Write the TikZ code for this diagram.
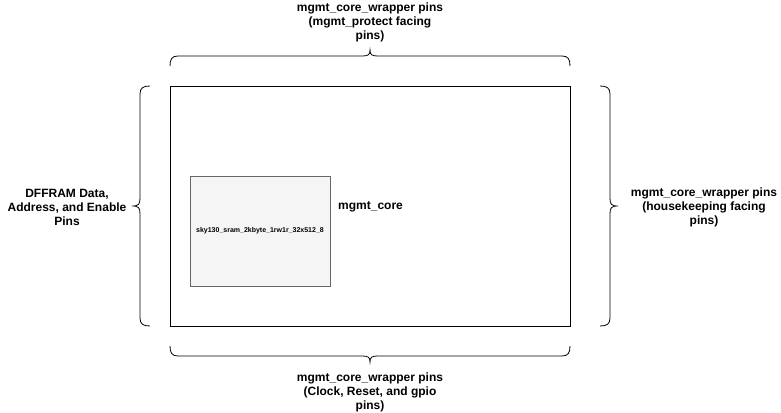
\documentclass[tikz,border=0pt]{standalone}
\usepackage{fontspec}
\setmainfont{Liberation Sans}
\begin{document}
\begin{tikzpicture}[x=1pt,y=-1pt,
  lbl/.style={font=\bfseries\fontsize{12}{14}\selectfont, align=center, inner sep=0pt},
  brace/.style={draw=black, line width=0.8pt},
  box/.style={draw=black, line width=0.8pt}]
\useasboundingbox (0,0) rectangle (781,412);
% main box
\node[box, minimum width=400pt, minimum height=240pt, anchor=north west, inner sep=0pt] (core) at (170,86) {};
% sram
\node[draw=black!60, fill=black!4, line width=0.8pt, minimum width=140pt, minimum height=110pt, anchor=north west, inner sep=0pt] (sram) at (190,176) {};
\node[font=\bfseries\fontsize{7}{8}\selectfont, inner sep=0pt] (sramlbl) at (260,231) {sky130\_sram\_2kbyte\_1rw1r\_32x512\_8};
\node[lbl, anchor=west] (corelbl) at (338,207) {mgmt\_core};
% top brace
\draw[brace] (170,66) .. controls (170,59) and (172,56) .. (178,56) -- (362,56) .. controls (368,56) and (370,55) .. (370,50)
  .. controls (370,55) and (372,56) .. (378,56) -- (562,56) .. controls (568,56) and (570,59) .. (570,66);
% bottom brace
\draw[brace] (170,346) .. controls (170,353) and (172,356) .. (178,356) -- (362,356) .. controls (368,356) and (370,357) .. (370,362)
  .. controls (370,357) and (372,356) .. (378,356) -- (562,356) .. controls (568,356) and (570,353) .. (570,346);
% left brace
\draw[brace] (150,86) .. controls (143,86) and (140,88) .. (140,94) -- (140,198) .. controls (140,204) and (139,206) .. (132,206)
  .. controls (139,206) and (140,208) .. (140,214) -- (140,318) .. controls (140,324) and (143,326) .. (150,326);
% right brace
\draw[brace] (600,86) .. controls (607,86) and (610,88) .. (610,94) -- (610,198) .. controls (610,204) and (611,206) .. (618,206)
  .. controls (611,206) and (610,208) .. (610,214) -- (610,318) .. controls (610,324) and (607,326) .. (600,326);
% labels
\node[lbl] (toplbl) at (370,22) {mgmt\_core\_wrapper pins\\(mgmt\_protect facing\\pins)};
\node[lbl] (botlbl) at (370,392) {mgmt\_core\_wrapper pins\\(Clock, Reset, and gpio\\pins)};
\node[lbl] (leftlbl) at (67,207) {DFFRAM Data,\\Address, and Enable\\Pins};
\node[lbl] (rightlbl) at (704,207) {mgmt\_core\_wrapper pins\\(housekeeping facing\\pins)};
\end{tikzpicture}
\end{document}
